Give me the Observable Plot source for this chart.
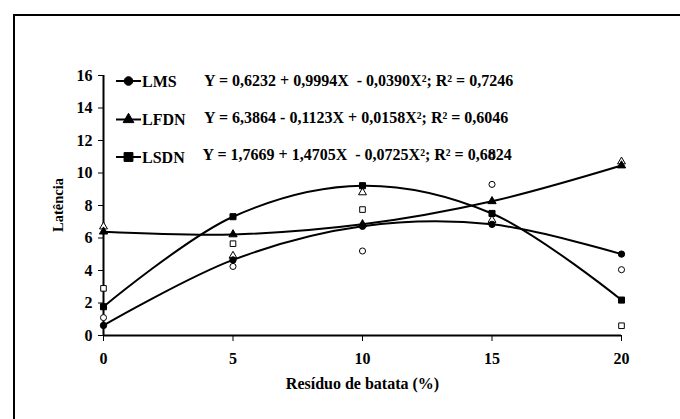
<!DOCTYPE html>
<html>
<head>
<meta charset="utf-8">
<script src="https://cdn.jsdelivr.net/npm/d3@7"></script>
<script src="https://cdn.jsdelivr.net/npm/@observablehq/plot@0.6"></script>
<style>
  html, body { margin: 0; padding: 0; background: #fff; }
  #chart { width: 680px; height: 419px; overflow: hidden; }
</style>
</head>
<body>
<div id="chart"></div>
<script>
// ---- data ----
const residuo = [0, 5, 10, 15, 20];
const yTicks = [0, 2, 4, 6, 8, 10, 12, 14, 16];

// fitted values (filled markers, smoothed lines)
const lmsFit  = [0.62, 4.65, 6.72, 6.84, 5.01];
const lfdnFit = [6.39, 6.22, 6.84, 8.26, 10.46];
const lsdnFit = [1.77, 7.31, 9.22, 7.51, 2.18];

// observed values (open markers)
const lmsObs  = [1.1, 4.25, 5.2, 9.3, 4.05];
const lfdnObs = [6.7, 4.9, 8.8, 7.1, 10.7];
const lsdnObs = [2.9, 5.65, 7.75, 11.1, 0.6];

const seriesNames = ["LMS", "LFDN", "LSDN"];
const symbols = ["circle", "triangle", "square"];
const equations = [
  "Y = 0,6232 + 0,9994X  - 0,0390X\u00B2; R\u00B2 = 0,7246",
  "Y = 6,3864 - 0,1123X + 0,0158X\u00B2; R\u00B2 = 0,6046",
  "Y = 1,7669 + 1,4705X  - 0,0725X\u00B2; R\u00B2 = 0,6824"
];
const xLabel = "Resíduo de batata (%)";
const yLabel = "Latência";

// ---- tables ----
const fitList = [lmsFit, lfdnFit, lsdnFit];
const obsList = [lmsObs, lfdnObs, lsdnObs];
const fit = [], obs = [];
seriesNames.forEach((s, i) => {
  residuo.forEach((x, j) => {
    fit.push({serie: s, sym: symbols[i], x, y: fitList[i][j]});
    obs.push({serie: s, sym: symbols[i], x, y: obsList[i][j]});
  });
});
const rSize = {circle: 4.3, triangle: 4.0, square: 5.0};
const rOpen = {circle: 4.0, triangle: 3.7, square: 4.3};

const font = "'Liberation Serif', 'Times New Roman', serif";

const svg = Plot.plot({
  width: 680,
  height: 419,
  marginLeft: 103,
  marginRight: 59,
  marginTop: 75,
  marginBottom: 84,
  style: {fontFamily: font, fontSize: "16px", fontWeight: "bold", color: "#000", background: "#fff"},
  x: {domain: [0, 20], ticks: residuo},
  y: {domain: [0, 16], ticks: yTicks},
  symbol: {domain: symbols, range: symbols},
  marks: [
    Plot.axisX({ticks: residuo, tickSize: 6, tickPadding: 11, label: null, fontSize: 16, fontWeight: "bold"}),
    Plot.axisY({ticks: yTicks, tickSize: 5, tickPadding: 6, label: null, fontSize: 16, fontWeight: "bold"}),
    Plot.ruleX([0], {stroke: "#000", strokeWidth: 2}),
    Plot.ruleY([0], {stroke: "#000", strokeWidth: 2}),
    Plot.text([xLabel], {frameAnchor: "bottom", dy: 53, fontSize: 16, fontWeight: "bold"}),
    // observed (open)
    Plot.dot(obs, {x: "x", y: "y", symbol: "sym", r: d => rOpen[d.sym], fill: "#fff", stroke: "#000", strokeWidth: 1}),
    // fitted lines
    Plot.line(fit, {x: "x", y: "y", z: "serie", stroke: "#000", strokeWidth: 2, curve: "catmull-rom"}),
    // fitted (filled)
    Plot.dot(fit, {x: "x", y: "y", symbol: "sym", r: d => rSize[d.sym], fill: "#000", stroke: "#000", strokeWidth: 1})
  ]
});

const sel = d3.select(svg);
// border of the chart area (extends past the right and bottom edges)
sel.insert("rect", ":first-child")
  .attr("x", 14).attr("y", 15).attr("width", 700).attr("height", 450)
  .attr("fill", "none").attr("stroke", "#000").attr("stroke-width", 2);

// y axis title
sel.append("text")
  .attr("transform", "translate(58,205) rotate(-90)")
  .attr("text-anchor", "middle").attr("dy", "0.35em").attr("font-family", font)
  .attr("font-weight", "bold").attr("font-size", 14.5).text(yLabel);

// legend inside the plot
const legendRows = [81, 119.5, 157];
const eqRows = [80.5, 117, 154];
const lg = sel.append("g").attr("font-family", font).attr("font-weight", "bold")
  .attr("font-size", 16).attr("text-anchor", "start");
seriesNames.forEach((s, i) => {
  const y = legendRows[i];
  lg.append("line").attr("x1", 116).attr("x2", 141).attr("y1", y).attr("y2", y)
    .attr("stroke", "#000").attr("stroke-width", 2);
  const symType = {circle: d3.symbolCircle, triangle: d3.symbolTriangle, square: d3.symbolSquare}[symbols[i]];
  const r = rSize[symbols[i]];
  lg.append("path").attr("d", d3.symbol(symType, Math.PI * r * r)())
    .attr("transform", `translate(128.5,${y})`).attr("fill", "#000").attr("stroke", "#000");
  lg.append("text").attr("x", 142).attr("y", y).attr("dy", "0.35em").text(s);
  lg.append("text").attr("x", i === 2 ? 202.5 : 204).attr("y", eqRows[i]).attr("dy", "0.35em")
    .style("white-space", "pre").text(equations[i]);
});

document.getElementById("chart").appendChild(svg);
</script>
</body>
</html>
